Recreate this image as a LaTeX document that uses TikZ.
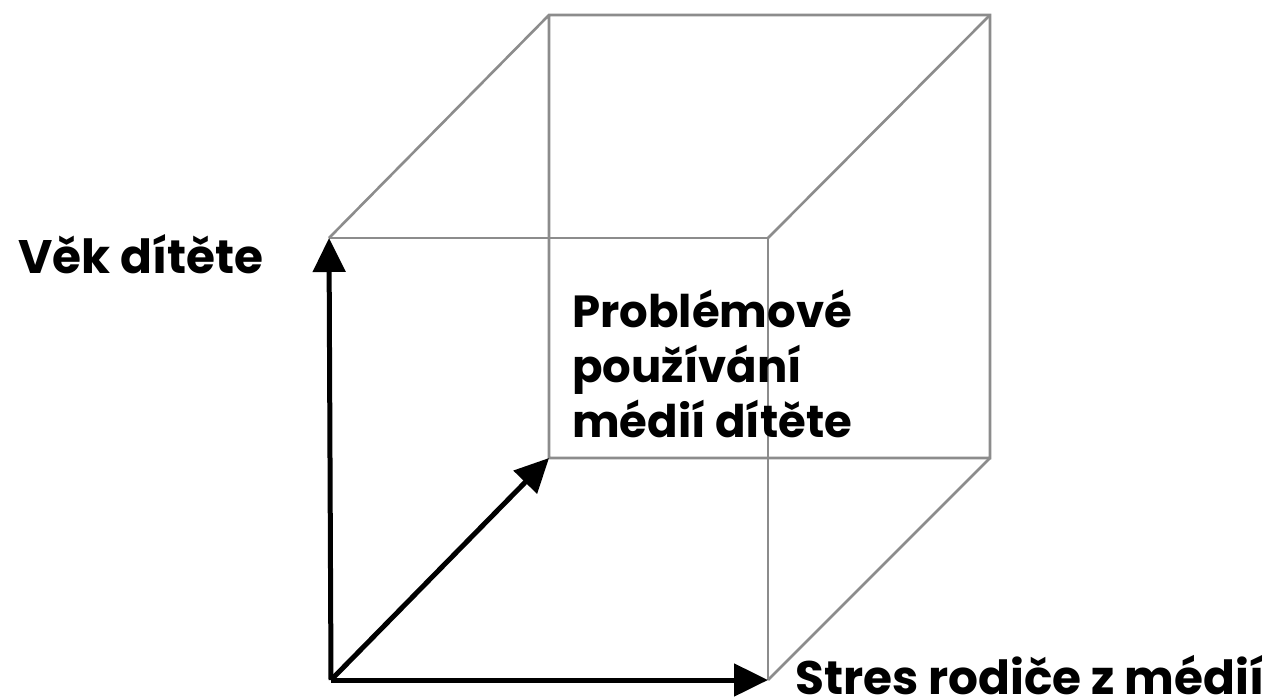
\documentclass[tikz,border=0pt]{standalone}
\usepackage{fontspec}
\setmainfont{Poppins}
\usetikzlibrary{arrows.meta}
\begin{document}
\begin{tikzpicture}[x=1pt,y=-1pt,
  edge/.style={draw=black!45,line width=2.6pt},
  axis/.style={draw=black,line width=5pt,-{Triangle[length=34pt,width=32pt]}},
  lbl/.style={inner sep=0pt,anchor=base west},
  big/.style={font=\fontsize{47}{55}\selectfont\bfseries},
  mid/.style={font=\fontsize{45}{55}\selectfont\bfseries}]
\useasboundingbox (0,0) rectangle (1276,699);
% cube corners
\coordinate (A) at (329,680);
\coordinate (B) at (768,680);
\coordinate (C) at (768,238);
\coordinate (D) at (329,238);
\coordinate (E) at (549,458);
\coordinate (F) at (990,458);
\coordinate (G) at (990,15);
\coordinate (H) at (549,15);
% gray cube edges
\draw[edge] (D) -- (C) -- (B);
\draw[edge] (D) -- (H) -- (G) -- (F) -- (E) -- (H);
\draw[edge] (C) -- (G);
\draw[edge] (B) -- (F);
% axes
\coordinate (O) at (331,680);
\draw[axis] (O) -- (D);
\draw[axis] (O) -- (B);
\draw[axis] (O) -- (E);
% labels
\node[lbl,big] (vek) at (18,273) {Věk dítěte};
\node[lbl,mid] (prob1) at (572,327) {Problémové};
\node[lbl,mid] (prob2) at (572,382) {používání};
\node[lbl,mid] (prob3) at (572,437) {médií dítěte};
\node[lbl,big] (stres) at (795,694) {Stres rodiče z médií};
\end{tikzpicture}
\end{document}
